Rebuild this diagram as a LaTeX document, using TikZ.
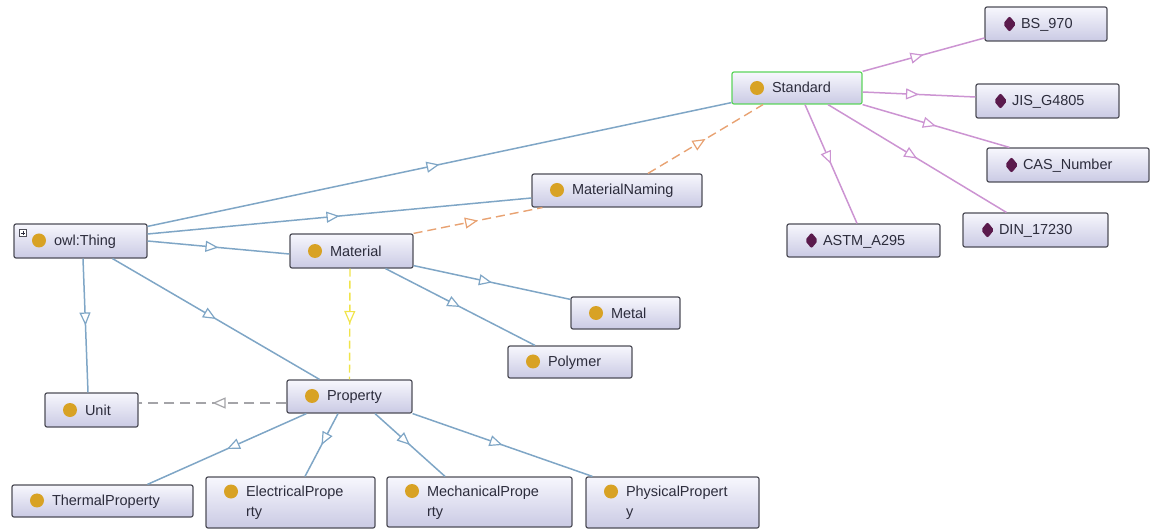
\documentclass[tikz,border=0pt]{standalone}
\usepackage{fontspec}
\setmainfont{Liberation Sans}
\usetikzlibrary{arrows.meta,decorations.markings}

\definecolor{boxedge}{HTML}{4E4E58}
\definecolor{boxtop}{HTML}{F7F7FD}
\definecolor{boxbot}{HTML}{CACAE4}
\definecolor{txt}{HTML}{2C2C3C}
\definecolor{icongold}{HTML}{D8A224}
\definecolor{indivcol}{HTML}{5A1A4C}
\definecolor{stdgreen}{HTML}{5CD45C}
\definecolor{isablue}{HTML}{7FA6C6}
\definecolor{instviolet}{HTML}{CC94D2}
\definecolor{relorange}{HTML}{E8A272}
\definecolor{relyellow}{HTML}{F0E44A}
\definecolor{relgray}{HTML}{A4A4A8}

% class and individual markers placed before the label text
\newcommand\clsdot{\tikz[baseline={(0pt,-5pt)}]\fill[icongold] (0pt,0pt) circle (7pt);\hspace{8pt}}
\newcommand\indivmark{\tikz[baseline={(0pt,-5pt)}]\fill[indivcol] (0pt,8pt) -- (6.5pt,0pt) -- (0pt,-8pt) -- (-6.5pt,0pt) -- cycle;\hspace{5pt}}
\newcommand\twolines[2]{\begin{tabular}[t]{@{}l@{}}#1\\#2\end{tabular}}

\tikzset{
  box/.style={draw=boxedge, line width=1.2pt, rounded corners=2pt,
    top color=boxtop, bottom color=boxbot, inner xsep=18pt, inner ysep=2pt,
    align=left, text=txt, font=\fontsize{14.5}{20}\selectfont},
  midtip/.style={postaction={decorate}, decoration={markings,
    mark=at position 0.5 with {\arrow{Triangle[length=13pt,width=11pt,fill=white,line width=1.2pt]}}}},
  isa/.style={draw, color=isablue, line width=1.5pt, midtip},
  inst/.style={draw, color=instviolet, line width=1.5pt, midtip},
  relo/.style={draw, color=relorange, line width=1.4pt, dash pattern=on 9pt off 5pt, midtip},
  rely/.style={draw, color=relyellow, line width=1.4pt, dash pattern=on 8pt off 4pt, midtip},
  relg/.style={draw, color=relgray, line width=1.4pt, dash pattern=on 10pt off 6pt, midtip},
}

\begin{document}
\begin{tikzpicture}[x=1pt,y=1pt]
\useasboundingbox (0,0) rectangle (1151,531);

% classes
\node[box, draw=stdgreen, text width=94pt, minimum height=32pt] (standard) at (797,443) {\clsdot Standard};
\node[box, text width=134pt, minimum height=33pt] (naming) at (617,340.5) {\clsdot MaterialNaming};
\node[box, text width=97pt, minimum height=34pt] (thing) at (80.5,290) {\clsdot owl:Thing};
\node[box, text width=87pt, minimum height=34pt] (material) at (351.5,280) {\clsdot Material};
\node[box, text width=73pt, minimum height=32pt] (metal) at (625.5,218) {\clsdot Metal};
\node[box, text width=88pt, minimum height=32pt] (polymer) at (570,169) {\clsdot Polymer};
\node[box, text width=57pt, minimum height=34pt] (unit) at (91.5,121) {\clsdot Unit};
\node[box, text width=89pt, minimum height=33pt] (property) at (349.5,134.5) {\clsdot Property};
\node[box, text width=145pt, minimum height=32pt] (thermal) at (102.5,30) {\clsdot ThermalProperty};
\node[box, text width=133pt, minimum height=51pt] (electrical) at (290.5,28.5) {\clsdot\twolines{ElectricalPrope}{rty}};
\node[box, text width=149pt, minimum height=50pt] (mechanical) at (479.5,29) {\clsdot\twolines{MechanicalPrope}{rty}};
\node[box, text width=137pt, minimum height=51pt] (physical) at (672.5,28.5) {\clsdot\twolines{PhysicalPropert}{y}};

% individuals
\node[box, text width=86pt, minimum height=34pt] (bs) at (1046,507) {\indivmark BS\_970};
\node[box, text width=107pt, minimum height=34pt] (jis) at (1047.5,430) {\indivmark JIS\_G4805};
\node[box, text width=126pt, minimum height=34pt] (cas) at (1068,366) {\indivmark CAS\_Number};
\node[box, text width=109pt, minimum height=34pt] (din) at (1035.5,301) {\indivmark DIN\_17230};
\node[box, text width=117pt, minimum height=33pt] (astm) at (863.5,290.5) {\indivmark ASTM\_A295};

% expand marker on the root class
\draw[draw=boxedge, fill=white, line width=0.6pt] ([shift={(6pt,-6pt)}]thing.north west) rectangle ++(7pt,-7pt);
\draw[draw=txt, line width=0.7pt] ([shift={(7.5pt,-9.5pt)}]thing.north west) -- ++(4pt,0pt)
  ([shift={(9.5pt,-7.5pt)}]thing.north west) -- ++(0pt,-4pt);

% subclass links
\path[isa] ([yshift=-3pt]thing.north east) -- ([yshift=2pt]standard.south west);
\path[isa] ([yshift=7pt]thing.east) -- ([yshift=-7.5pt]naming.west);
\path[isa] (thing.east) -- ([yshift=-3pt]material.west);
\path[isa] ([xshift=2.5pt]thing.south) -- ([xshift=-3.5pt]unit.north);
\path[isa] ([xshift=32pt]thing.south) -- ([xshift=-30pt]property.north);
\path[isa] ([yshift=3pt]material.south east) -- ([yshift=-3pt]metal.north west);
\path[isa] ([xshift=34pt]material.south) -- ([xshift=-35pt]polymer.north);
\path[isa] ([xshift=20pt]property.south west) -- ([xshift=45pt]thermal.north);
\path[isa] ([xshift=-11.5pt]property.south) -- ([xshift=14.5pt]electrical.north);
\path[isa] ([xshift=25.5pt]property.south) -- ([xshift=-34.5pt]mechanical.north);
\path[isa] (property.south east) -- ([xshift=7pt]physical.north west);

% object relations
\path[relo] (material.north east) -- ([xshift=11pt]naming.south west);
\path[relo] ([xshift=31pt]naming.north) -- ([xshift=-34pt]standard.south);
\path[rely] ([xshift=-1.5pt]material.south) -- (property.north);
\path[relg] ([yshift=-6.5pt]property.west) -- ([yshift=7pt]unit.east);

% instances of Standard
\path[inst] (standard.north east) -- ([yshift=-14pt]bs.west);
\path[inst] ([yshift=-4pt]standard.east) -- ([yshift=4pt]jis.west);
\path[inst] (standard.south east) -- ([xshift=23pt]cas.north west);
\path[inst] ([xshift=31pt]standard.south) -- ([xshift=44pt]din.north west);
\path[inst] ([xshift=8pt]standard.south) -- ([xshift=-6.5pt]astm.north);
\end{tikzpicture}
\end{document}
